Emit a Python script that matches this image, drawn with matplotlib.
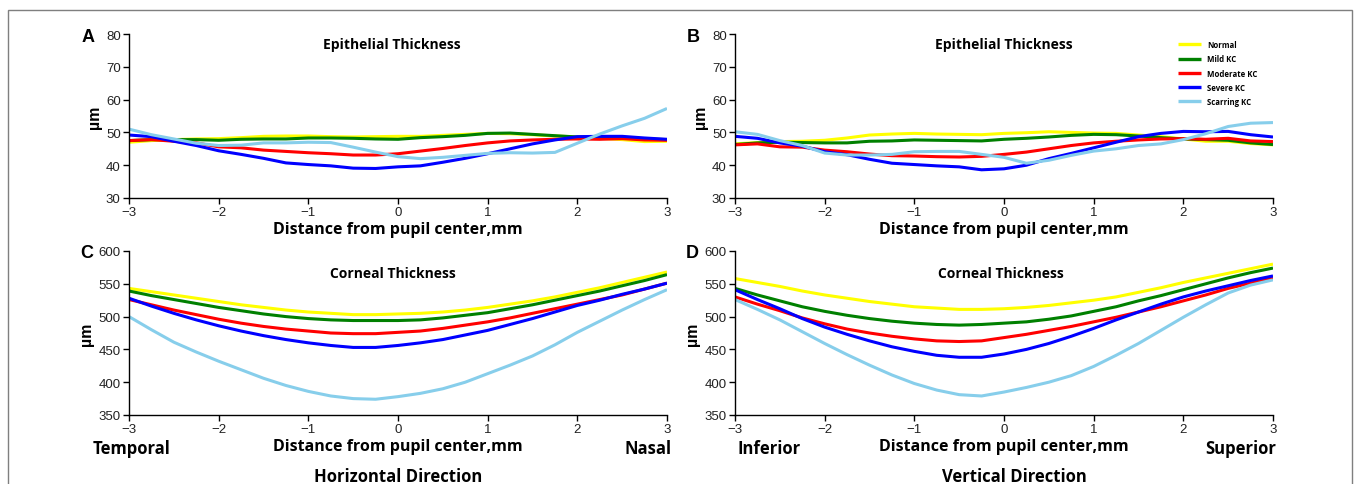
import matplotlib
matplotlib.use("Agg")
import matplotlib.pyplot as plt
from matplotlib.patches import Rectangle

# distance from pupil center, mm (0.25 mm steps)
dist = [-3.0, -2.75, -2.5, -2.25, -2.0, -1.75, -1.5, -1.25, -1.0, -0.75, -0.5, -0.25,
        0.0, 0.25, 0.5, 0.75, 1.0, 1.25, 1.5, 1.75, 2.0, 2.25, 2.5, 2.75, 3.0]

groups = ["Normal", "Mild KC", "Moderate KC", "Severe KC", "Scarring KC"]
colors = ["#FFFF00", "#008000", "#FF0000", "#0000FF", "#87CEEB"]

# A: epithelial thickness, horizontal
epi_h_normal = [47.0, 47.5, 47.8, 48.0, 48.1, 48.4, 48.8, 48.9, 48.9, 48.7, 48.6, 48.7, 48.8,
                48.8, 49.1, 49.4, 49.7, 49.6, 49.3, 48.9, 48.6, 48.2, 47.8, 47.2, 47.3]
epi_h_mild = [47.5, 47.8, 47.8, 47.8, 47.6, 47.9, 48.0, 48.0, 48.3, 48.3, 48.2, 48.0, 47.9,
              48.4, 48.7, 49.1, 49.7, 49.8, 49.4, 49.0, 48.6, 48.5, 48.5, 48.0, 47.8]
epi_h_moderate = [47.5, 47.8, 47.3, 46.8, 45.6, 45.3, 44.6, 44.2, 43.8, 43.5, 43.1, 43.1, 43.5,
                  44.3, 45.1, 46.0, 46.8, 47.4, 47.7, 47.9, 48.0, 47.9, 48.1, 47.7, 47.6]
epi_h_severe = [49.2, 48.7, 47.3, 46.0, 44.4, 43.3, 42.1, 40.7, 40.2, 39.8, 39.1, 39.0, 39.5,
                39.8, 40.9, 42.1, 43.5, 45.0, 46.5, 47.7, 48.7, 48.8, 48.8, 48.3, 47.9]
epi_h_scarring = [51.0, 49.3, 48.0, 46.7, 46.0, 46.1, 46.8, 46.8, 47.0, 46.9, 45.5, 44.0, 42.6,
                  42.0, 42.4, 43.0, 43.6, 43.8, 43.7, 43.9, 46.7, 49.5, 52.0, 54.3, 57.3]

# B: epithelial thickness, vertical
epi_v_normal = [46.5, 46.9, 47.2, 47.3, 47.6, 48.3, 49.2, 49.5, 49.7, 49.5, 49.4, 49.3, 49.7,
                49.9, 50.2, 50.0, 49.8, 49.7, 49.2, 48.7, 48.0, 47.3, 47.3, 46.6, 46.2]
epi_v_mild = [46.3, 46.8, 47.0, 46.9, 46.8, 46.8, 47.3, 47.4, 47.7, 47.6, 47.5, 47.4, 47.9,
              48.2, 48.6, 49.1, 49.4, 49.3, 48.9, 48.4, 48.0, 47.8, 47.6, 46.8, 46.3]
epi_v_moderate = [46.2, 46.5, 45.6, 45.5, 44.6, 44.1, 43.4, 42.9, 42.8, 42.6, 42.5, 42.7, 43.3,
                  44.0, 45.0, 46.0, 46.8, 47.3, 47.7, 48.0, 48.1, 47.9, 48.2, 47.4, 47.2]
epi_v_severe = [48.8, 48.2, 46.8, 45.8, 44.1, 43.2, 41.8, 40.6, 40.2, 39.8, 39.5, 38.6, 38.9,
                40.0, 42.0, 43.6, 45.3, 47.0, 48.7, 49.7, 50.3, 50.2, 50.3, 49.3, 48.6]
epi_v_scarring = [50.2, 49.4, 47.5, 46.0, 43.7, 43.1, 43.1, 43.3, 44.1, 44.2, 44.2, 43.3, 42.4,
                  40.6, 41.5, 43.0, 44.3, 45.0, 46.0, 46.5, 47.8, 49.6, 51.8, 52.8, 53.0]

# C: corneal thickness, horizontal
cor_h_normal = [543, 538, 533, 528, 523, 518, 514, 510, 507, 505, 503, 503, 504,
                505, 507, 510, 514, 519, 524, 530, 537, 544, 552, 560, 568]
cor_h_mild = [539, 532, 526, 520, 514, 509, 504, 500, 497, 495, 494, 494, 494,
              495, 498, 502, 506, 512, 518, 525, 532, 539, 547, 555, 564]
cor_h_moderate = [526, 518, 510, 503, 496, 490, 485, 481, 478, 475, 474, 474, 476,
                  478, 482, 487, 492, 498, 505, 512, 519, 526, 533, 542, 551]
cor_h_severe = [528, 516, 505, 495, 486, 478, 471, 465, 460, 456, 453, 453, 456,
                460, 465, 472, 479, 488, 497, 507, 517, 525, 534, 542, 551]
cor_h_scarring = [500, 480, 461, 446, 432, 419, 406, 395, 386, 379, 375, 374, 378,
                  383, 390, 400, 413, 426, 440, 457, 476, 493, 510, 526, 541]

# D: corneal thickness, vertical
cor_v_normal = [558, 552, 546, 539, 533, 528, 523, 519, 515, 513, 511, 511, 512,
                514, 517, 521, 525, 530, 537, 544, 552, 559, 566, 573, 580]
cor_v_mild = [543, 533, 524, 515, 508, 502, 497, 493, 490, 488, 487, 488, 490,
              492, 496, 501, 508, 515, 524, 532, 541, 550, 559, 567, 574]
cor_v_moderate = [530, 519, 509, 498, 489, 481, 475, 470, 466, 463, 462, 463, 468,
                  473, 479, 485, 492, 499, 507, 515, 524, 533, 543, 551, 559]
cor_v_severe = [541, 526, 512, 497, 484, 473, 463, 454, 447, 441, 438, 438, 443,
                450, 459, 470, 482, 495, 507, 519, 530, 539, 547, 555, 562]
cor_v_scarring = [526, 511, 495, 477, 459, 442, 426, 411, 398, 388, 381, 379, 385,
                  392, 400, 410, 424, 441, 459, 479, 499, 518, 536, 548, 556]

tick_font = "Liberation Sans"
label_font = "Open Sans"

fig = plt.figure(figsize=(13.57, 4.85), dpi=100)

# thin frame around the figure
fig.patches.append(Rectangle((8 / 1357, -0.05), 1344 / 1357, 1.05 - 11 / 485,
                             transform=fig.transFigure, fill=False,
                             edgecolor="#7f7f7f", linewidth=1.0))

W, H = 1357, 485
panels = [
    ("A", (129, 35), [epi_h_normal, epi_h_mild, epi_h_moderate, epi_h_severe, epi_h_scarring],
     "Epithelial Thickness", (0.488, 0.94), (30, 80), [30, 40, 50, 60, 70, 80]),
    ("B", (735, 35), [epi_v_normal, epi_v_mild, epi_v_moderate, epi_v_severe, epi_v_scarring],
     "Epithelial Thickness", (0.50, 0.94), (30, 80), [30, 40, 50, 60, 70, 80]),
    ("C", (129, 252), [cor_h_normal, cor_h_mild, cor_h_moderate, cor_h_severe, cor_h_scarring],
     "Corneal Thickness", (0.49, 0.866), (350, 600), [350, 400, 450, 500, 550, 600]),
    ("D", (735, 252), [cor_v_normal, cor_v_mild, cor_v_moderate, cor_v_severe, cor_v_scarring],
     "Corneal Thickness", (0.494, 0.866), (350, 600), [350, 400, 450, 500, 550, 600]),
]

axes = {}
for letter, (px, py), series, title, tpos, ylim, yticks in panels:
    ax = fig.add_axes([px / W, 1 - (py + 164) / H, 538 / W, 164 / H])
    for vals, col, name in zip(series, colors, groups):
        ax.plot(dist, vals, color=col, linewidth=2.2, label=name, solid_capstyle="butt")
    ax.set_xlim(-3, 3)
    ax.set_ylim(*ylim)
    ax.set_xticks([-3, -2, -1, 0, 1, 2, 3])
    ax.set_xticklabels(["\u22123", "\u22122", "\u22121", "0", "1", "2", "3"])
    ax.set_yticks(yticks)
    for s in ["top", "right"]:
        ax.spines[s].set_visible(False)
    for s in ["left", "bottom"]:
        ax.spines[s].set_linewidth(1.0)
    ax.tick_params(direction="out", length=4, width=1.0, pad=2, labelsize=9.5)
    for lab in ax.get_xticklabels() + ax.get_yticklabels():
        lab.set_fontfamily(tick_font)
        lab.set_color("#222222")
    ax.text(tpos[0], tpos[1], title, transform=ax.transAxes, ha="center", va="center",
            fontsize=10, fontweight="bold", family=label_font)
    ax.set_xlabel("Distance from pupil center,mm", fontsize=11.5, fontweight="bold",
                  family=label_font, labelpad=2)
    ax.set_ylabel("\u00b5m", fontsize=11.5, fontweight="bold", family=tick_font, labelpad=3)
    axes[letter] = ax

for letter, x, y in [("A", 88, 38), ("B", 693, 38), ("C", 87, 254), ("D", 692, 254)]:
    fig.text(x / W, 1 - y / H, letter, ha="center", va="center", fontsize=13,
             fontweight="bold", family=tick_font)

# direction annotations
fig.text(93 / W, 1 - 449 / H, "Temporal", ha="left", va="center", fontsize=12,
         fontweight="bold", family=label_font)
fig.text(672 / W, 1 - 449 / H, "Nasal", ha="right", va="center", fontsize=12,
         fontweight="bold", family=label_font)
fig.text(398 / W, 1 - 477 / H, "Horizontal Direction", ha="center", va="center",
         fontsize=12, fontweight="bold", family=label_font)
fig.text(737 / W, 1 - 449 / H, "Inferior", ha="left", va="center", fontsize=12,
         fontweight="bold", family=label_font)
fig.text(1276 / W, 1 - 449 / H, "Superior", ha="right", va="center", fontsize=12,
         fontweight="bold", family=label_font)
fig.text(1014 / W, 1 - 477 / H, "Vertical Direction", ha="center", va="center",
         fontsize=12, fontweight="bold", family=label_font)

leg = axes["B"].legend(loc="upper left", bbox_to_anchor=(1178 / W, 1 - 41 / H),
                       bbox_transform=fig.transFigure, frameon=False,
                       prop={"family": label_font, "weight": "bold", "size": 5.6},
                       handlelength=3.0, handletextpad=0.7, labelspacing=0.68,
                       borderaxespad=0, borderpad=0)
for line in leg.get_lines():
    line.set_linewidth(2.4)

fig.savefig("out.png", dpi=100)
